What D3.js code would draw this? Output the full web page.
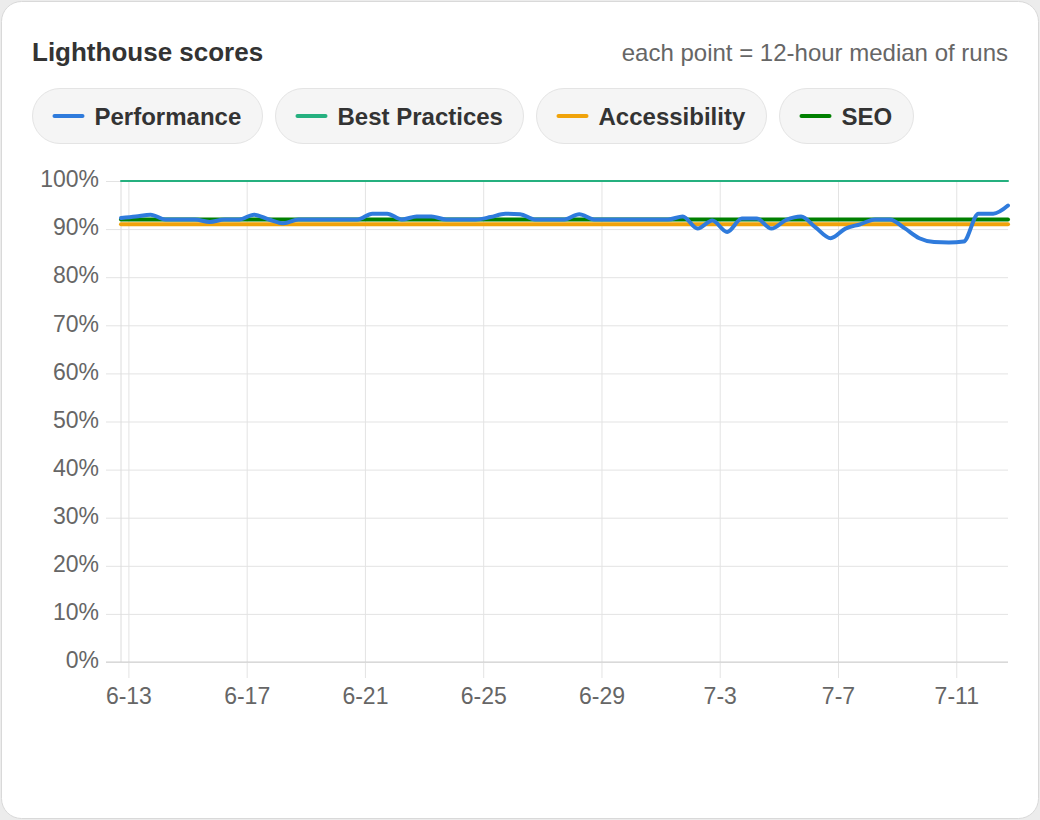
<!DOCTYPE html>
<html>
<head>
<meta charset="utf-8">
<script src="https://cdn.jsdelivr.net/npm/d3@7"></script>
<style>
  html, body { margin: 0; padding: 0; background: #ececec; }
  svg { display: block; font-family: "Liberation Sans", Arial, Helvetica, sans-serif; }
</style>
</head>
<body>
<svg id="chart"></svg>
<script>
// --- data ---------------------------------------------------------------
// first point timestamp, then one point every 12 hours
const firstPoint = "2024-06-12T18:00:00";
const stepHours = 12;

const performance = [
  92.3, 92.6, 93.0, 92.0, 92.0, 92.0, 91.5, 92.0, 92.0, 93.0,
  92.0, 91.2, 92.0, 92.0, 92.0, 92.0, 92.0, 93.2, 93.2, 92.0,
  92.6, 92.6, 92.0, 92.0, 92.0, 92.5, 93.2, 93.1, 92.0, 92.0,
  92.0, 93.1, 92.0, 92.0, 92.0, 92.0, 92.0, 92.0, 92.6, 90.1,
  91.8, 89.4, 92.2, 92.2, 90.1, 91.9, 92.6, 90.3, 88.1, 90.1,
  91.0, 92.0, 92.0, 90.2, 88.1, 87.3, 87.2, 87.4, 93.2, 93.2,
  94.9
];
const bestPractices = performance.map(() => 100);
const accessibility = performance.map(() => 91);
const seo = performance.map(() => 92);

const seriesNames = ["Performance", "Best Practices", "Accessibility", "SEO"];
const seriesColors = ["#2f7bdc", "#25b07f", "#f0a30a", "#008000"];
const seriesWidths = [4, 2, 4, 4];

const xTickLabels = ["6-13", "6-17", "6-21", "6-25", "6-29", "7-3", "7-7", "7-11"];
const yTicks = [0, 10, 20, 30, 40, 50, 60, 70, 80, 90, 100];

// --- setup --------------------------------------------------------------
const W = 1040, H = 820;
const plot = {left: 121, right: 1008, top: 181, bottom: 662};

const svg = d3.select("#chart").attr("width", W).attr("height", H);

// card
svg.append("rect")
  .attr("x", 1.5).attr("y", 1.5)
  .attr("width", W - 3).attr("height", H - 3)
  .attr("rx", 20)
  .attr("fill", "#fff")
  .attr("stroke", "#d9d9d9");

// header
svg.append("text")
  .attr("x", 32).attr("y", 61)
  .attr("font-size", 26).attr("font-weight", "bold")
  .attr("fill", "#333")
  .text("Lighthouse scores");

svg.append("text")
  .attr("x", 1008).attr("y", 61)
  .attr("text-anchor", "end")
  .attr("font-size", 24)
  .attr("fill", "#666")
  .text("each point = 12-hour median of runs");

// legend pills
let pillX = 32.5;
seriesNames.forEach((name, i) => {
  const g = svg.append("g").attr("transform", `translate(${pillX},88.5)`);
  const pill = g.append("rect")
    .attr("height", 55).attr("rx", 27.5)
    .attr("fill", "#f5f5f5")
    .attr("stroke", "#e4e4e4");
  g.append("line")
    .attr("x1", 22).attr("x2", 50)
    .attr("y1", 27.5).attr("y2", 27.5)
    .attr("stroke", seriesColors[i])
    .attr("stroke-width", 4)
    .attr("stroke-linecap", "round");
  const label = g.append("text")
    .attr("x", 62).attr("y", 36)
    .attr("font-size", 24).attr("font-weight", "bold")
    .attr("fill", "#333")
    .text(name);
  const w = Math.round(62 + label.node().getComputedTextLength() + 21);
  pill.attr("width", w);
  pillX += w + 13;
});

// --- scales -------------------------------------------------------------
const t0 = new Date(firstPoint);
const times = performance.map((d, i) => new Date(t0.getTime() + i * stepHours * 3600 * 1000));

const x = d3.scaleTime()
  .domain(d3.extent(times))
  .range([plot.left, plot.right]);

const y = d3.scaleLinear()
  .domain([0, 100])
  .range([plot.bottom, plot.top]);

const parseTick = d3.timeParse("%Y-%m-%d");
const xTickDates = xTickLabels.map(s => {
  const [m, d] = s.split("-");
  return parseTick(`2024-${m.padStart(2, "0")}-${d.padStart(2, "0")}`);
});

// --- axes / grid --------------------------------------------------------
const yAxis = svg.append("g")
  .attr("transform", `translate(${plot.left},0)`)
  .call(d3.axisLeft(y)
    .tickValues(yTicks)
    .tickSize(15)
    .tickPadding(7)
    .tickFormat(d => d + "%"));
yAxis.select(".domain").remove();
yAxis.selectAll(".tick line").clone()
  .attr("x2", plot.right - plot.left);
yAxis.selectAll(".tick line").attr("stroke", "#e3e3e3");
yAxis.selectAll(".tick text")
  .attr("font-size", 23).attr("fill", "#666")
  .attr("dy", "0.25em")
  .attr("font-family", "'Liberation Sans', Arial, sans-serif");

const xAxis = svg.append("g")
  .attr("transform", `translate(0,${plot.bottom})`)
  .call(d3.axisBottom(x)
    .tickValues(xTickDates)
    .tickSize(16)
    .tickPadding(10)
    .tickFormat((d, i) => xTickLabels[i]));
xAxis.select(".domain").remove();
xAxis.selectAll(".tick line").clone()
  .attr("y2", plot.top - plot.bottom);
xAxis.selectAll(".tick line").attr("stroke", "#e3e3e3");
xAxis.selectAll(".tick text")
  .attr("font-size", 23).attr("fill", "#666")
  .attr("font-family", "'Liberation Sans', Arial, sans-serif");

// y axis line and baseline
svg.append("line")
  .attr("x1", plot.left).attr("x2", plot.left)
  .attr("y1", y(100)).attr("y2", y(0))
  .attr("stroke", "#dcdcdc");
svg.append("line")
  .attr("x1", plot.left - 15).attr("x2", plot.right)
  .attr("y1", y(0)).attr("y2", y(0))
  .attr("stroke", "#cfcfcf");

// --- lines --------------------------------------------------------------
const line = d3.line()
  .x((d, i) => x(times[i]))
  .y(d => y(d))
  .curve(d3.curveMonotoneX);

const drawOrder = [
  [bestPractices, 1],
  [accessibility, 2],
  [seo, 3],
  [performance, 0]
];

svg.append("g").selectAll("path")
  .data(drawOrder)
  .join("path")
    .attr("d", d => line(d[0]))
    .attr("fill", "none")
    .attr("stroke", d => seriesColors[d[1]])
    .attr("stroke-width", d => seriesWidths[d[1]])
    .attr("stroke-linejoin", "round")
    .attr("stroke-linecap", "round");
</script>
</body>
</html>
